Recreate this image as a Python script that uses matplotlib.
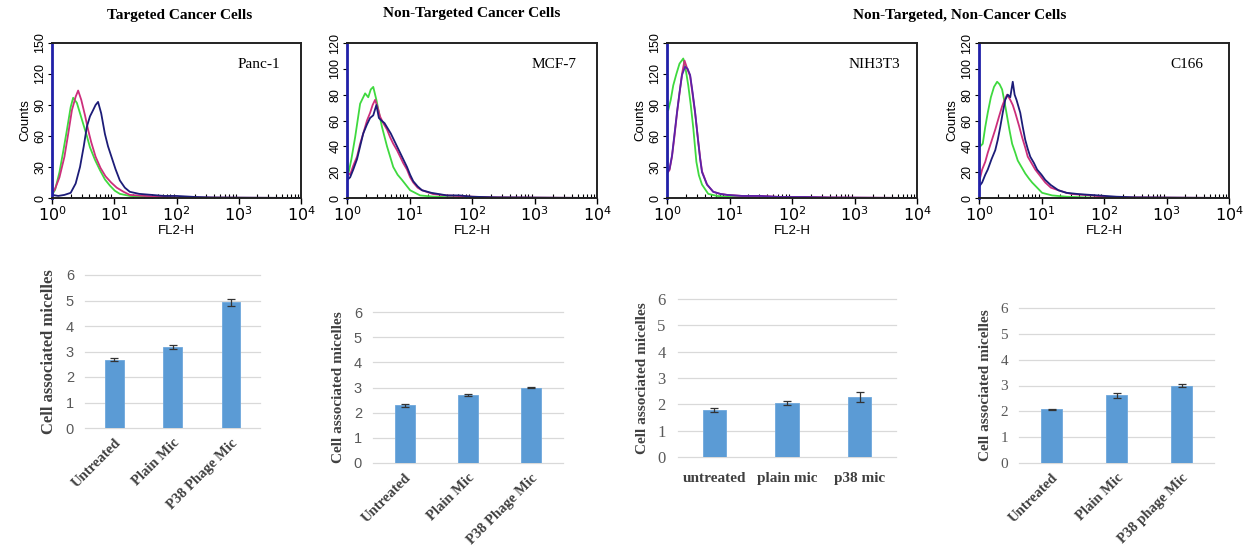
import numpy as np
import matplotlib
matplotlib.use("Agg")
import matplotlib.pyplot as plt
from matplotlib.ticker import LogLocator, NullFormatter, FixedLocator

W, H = 1259, 558

# ---- flow cytometry histograms (x given as log10 FL2-H, y = counts) ----
p1_green_lx = [0.0, 0.05, 0.12, 0.18, 0.24, 0.30, 0.34, 0.40, 0.45, 0.50, 0.56, 0.61, 0.69, 0.77, 0.85, 0.93, 1.01, 1.09, 1.25, 1.5, 2.0, 4.0]
p1_green_y = [3, 8, 25, 45, 66, 88, 97, 92, 82, 72, 60, 49, 37, 27, 18, 12, 7, 4, 2, 1, 0, 0]
p1_pink_lx = [0.0, 0.05, 0.12, 0.2, 0.26, 0.32, 0.38, 0.42, 0.47, 0.53, 0.58, 0.63, 0.70, 0.78, 0.86, 0.95, 1.04, 1.15, 1.25, 1.5, 2.0, 4.0]
p1_pink_y = [4, 9, 20, 40, 62, 85, 98, 104, 95, 80, 66, 54, 40, 29, 21, 15, 10, 6, 3, 2, 0.5, 0]
p1_navy_lx = [0.0, 0.005, 0.1, 0.2, 0.3, 0.38, 0.45, 0.51, 0.56, 0.61, 0.66, 0.70, 0.74, 0.79, 0.85, 0.90, 0.96, 1.02, 1.09, 1.17, 1.25, 1.4, 1.6, 1.8, 2.0, 2.3, 2.6, 4.0]
p1_navy_y = [80, 3, 2, 3, 5, 14, 30, 50, 69, 79, 85, 90, 93, 82, 62, 50, 39, 28, 17, 10, 6, 4, 3, 2, 2, 1, 0.5, 0]

p2_green_lx = [0.0, 0.01, 0.07, 0.13, 0.21, 0.29, 0.34, 0.38, 0.42, 0.47, 0.52, 0.56, 0.64, 0.74, 0.81, 0.88, 1.01, 1.17, 1.4, 2.0, 4.0]
p2_green_y = [60, 16, 30, 47, 73, 81, 78, 84, 86, 76, 64, 55, 40, 24, 18, 14, 6, 2, 1, 0, 0]
p2_pink_lx = [0.0, 0.05, 0.1, 0.16, 0.21, 0.26, 0.32, 0.37, 0.41, 0.45, 0.49, 0.53, 0.58, 0.64, 0.69, 0.74, 0.80, 0.85, 0.90, 0.96, 1.01, 1.06, 1.13, 1.2, 1.38, 1.6, 2.0, 2.3, 4.0]
p2_pink_y = [20, 18, 25, 32, 42, 50, 60, 66, 72, 76, 70, 63, 58, 53, 47, 42, 37, 32, 27, 22, 16, 12, 8, 6, 3, 2, 1, 0.5, 0]
p2_navy_lx = [0.0, 0.005, 0.05, 0.1, 0.16, 0.21, 0.26, 0.32, 0.37, 0.42, 0.47, 0.51, 0.55, 0.60, 0.65, 0.70, 0.75, 0.80, 0.85, 0.90, 0.96, 1.01, 1.06, 1.13, 1.2, 1.35, 1.6, 1.8, 2.0, 2.4, 4.0]
p2_navy_y = [70, 14, 16, 22, 30, 40, 50, 57, 62, 64, 72, 62, 60, 58, 54, 50, 45, 40, 35, 30, 24, 18, 13, 9, 6, 4, 2, 2, 1, 0.5, 0]

p3_green_lx = [0.0, 0.02, 0.06, 0.1, 0.15, 0.2, 0.26, 0.3, 0.34, 0.38, 0.42, 0.47, 0.51, 0.56, 0.66, 0.8, 1.0, 1.5, 4.0]
p3_green_y = [95, 85, 95, 109, 120, 130, 135, 124, 109, 90, 68, 35, 22, 13, 4, 2, 1, 0, 0]
p3_pink_lx = [0.0, 0.005, 0.04, 0.08, 0.12, 0.16, 0.2, 0.24, 0.28, 0.33, 0.37, 0.41, 0.45, 0.5, 0.53, 0.56, 0.64, 0.74, 0.85, 0.96, 1.2, 1.5, 1.8, 2.2, 2.6, 4.0]
p3_pink_y = [100, 24, 27, 40, 60, 82, 101, 120, 133, 124, 118, 100, 82, 55, 39, 26, 13, 6, 4, 3, 2, 2, 1, 1, 0.5, 0]
p3_navy_lx = [0.0, 0.005, 0.04, 0.08, 0.12, 0.16, 0.2, 0.24, 0.29, 0.33, 0.37, 0.41, 0.45, 0.5, 0.53, 0.56, 0.64, 0.74, 0.85, 0.96, 1.2, 1.5, 1.8, 2.2, 2.6, 4.0]
p3_navy_y = [110, 25, 28, 41, 62, 83, 102, 119, 127, 125, 119, 102, 83, 54, 38, 25, 13, 6, 4, 3, 2, 2, 1, 1, 0.5, 0]

p4_green_lx = [0.0, 0.02, 0.06, 0.10, 0.14, 0.19, 0.24, 0.29, 0.33, 0.37, 0.41, 0.45, 0.49, 0.53, 0.58, 0.62, 0.68, 0.74, 0.80, 0.85, 0.93, 1.01, 1.17, 1.4, 2.0, 4.0]
p4_green_y = [75, 40, 42, 55, 66, 78, 86, 90, 88, 84, 74, 63, 52, 42, 35, 29, 24, 19, 15, 12, 8, 4, 2, 1, 0, 0]
p4_pink_lx = [0.0, 0.05, 0.1, 0.14, 0.2, 0.26, 0.32, 0.37, 0.41, 0.45, 0.5, 0.54, 0.58, 0.64, 0.69, 0.74, 0.78, 0.84, 0.9, 0.98, 1.06, 1.15, 1.27, 1.4, 1.5, 1.8, 2.0, 2.3, 4.0]
p4_pink_y = [12, 22, 28, 35, 44, 53, 63, 71, 76, 80, 76, 72, 66, 56, 47, 39, 32, 27, 22, 17, 12, 8, 6, 4, 3, 2, 1, 0.5, 0]
p4_navy_lx = [0.0, 0.005, 0.05, 0.1, 0.14, 0.2, 0.26, 0.3, 0.34, 0.38, 0.42, 0.46, 0.5, 0.54, 0.57, 0.6, 0.66, 0.7, 0.74, 0.78, 0.82, 0.88, 0.93, 1.0, 1.06, 1.15, 1.27, 1.4, 1.6, 1.9, 2.2, 2.5, 4.0]
p4_navy_y = [70, 9, 12, 18, 22, 30, 37, 45, 55, 66, 76, 80, 78, 90, 80, 76, 66, 55, 45, 38, 32, 27, 22, 18, 14, 10, 6, 4, 3, 2, 1, 0.5, 0]

hist_names = ["Panc-1", "MCF-7", "NIH3T3", "C166"]
hist_ymax = [150, 120, 150, 120]
hist_ystep = [30, 20, 30, 20]

# ---- bar charts ----
bar_labels_1 = ["Untreated", "Plain Mic", "P38 Phage Mic"]
bar_vals_1 = [2.68, 3.18, 4.93]
bar_err_1 = [0.05, 0.08, 0.13]
bar_labels_2 = ["Untreated", "Plain Mic", "P38 Phage Mic"]
bar_vals_2 = [2.30, 2.70, 3.00]
bar_err_2 = [0.06, 0.05, 0.03]
bar_labels_3 = ["untreated", "plain mic", "p38 mic"]
bar_vals_3 = [1.78, 2.05, 2.27]
bar_err_3 = [0.07, 0.09, 0.18]
bar_labels_4 = ["Untreated", "Plain Mic", "P38 phage Mic"]
bar_vals_4 = [2.08, 2.62, 3.00]
bar_err_4 = [0.02, 0.10, 0.05]

GREEN = "#3fd93f"
PINK = "#cc2f7c"
NAVY = "#1c1c78"
PURPLE = "#5a22a8"
BAR = "#5b9bd5"
SERIF = ["Liberation Serif", "DejaVu Serif"]
SANS = ["Liberation Sans", "DejaVu Sans"]


def px_axes(fig, l, r, t, b):
    return fig.add_axes([l / W, 1 - b / H, (r - l) / W, (b - t) / H])


fig = plt.figure(figsize=(W / 100, H / 100), dpi=100)
fig.patch.set_facecolor("white")

hist_boxes = [(52, 301), (347, 597), (667, 917), (979, 1229)]
curves = [
    [(p1_green_lx, p1_green_y, GREEN), (p1_pink_lx, p1_pink_y, PINK), (p1_navy_lx, p1_navy_y, NAVY)],
    [(p2_green_lx, p2_green_y, GREEN), (p2_pink_lx, p2_pink_y, PINK), (p2_navy_lx, p2_navy_y, NAVY)],
    [(p3_green_lx, p3_green_y, GREEN), (p3_pink_lx, p3_pink_y, PINK), (p3_navy_lx, p3_navy_y, PURPLE)],
    [(p4_green_lx, p4_green_y, GREEN), (p4_pink_lx, p4_pink_y, PINK), (p4_navy_lx, p4_navy_y, NAVY)],
]

for i, (l, r) in enumerate(hist_boxes):
    ax = px_axes(fig, l, r, 43, 198)
    for lx, y, c in curves[i]:
        ax.plot(10 ** np.array(lx), y, color=c, lw=1.3)
    ax.set_xscale("log")
    ax.set_xlim(1, 1e4)
    ax.set_ylim(0, hist_ymax[i])
    ax.set_yticks(np.arange(0, hist_ymax[i] + 1, hist_ystep[i]))
    ax.xaxis.set_major_locator(FixedLocator([1, 10, 100, 1000, 10000]))
    ax.xaxis.set_minor_locator(LogLocator(base=10, subs=np.arange(2, 10)))
    ax.xaxis.set_minor_formatter(NullFormatter())
    ax.set_xticklabels([r"$10^{%d}$" % k for k in range(5)], fontsize=11.5, family=SANS)
    ax.tick_params(axis="x", which="major", direction="out", length=4, width=1, pad=1)
    ax.tick_params(axis="x", which="minor", direction="in", length=3, width=0.8)
    ax.tick_params(axis="y", direction="out", length=3, labelsize=9, pad=1)
    for lab in ax.get_yticklabels():
        lab.set_rotation(90)
        lab.set_va("center")
        lab.set_family(SANS)
    for s in ax.spines.values():
        s.set_linewidth(1.4)
        s.set_color("#222222")
    ax.spines["left"].set_color("#2020a8")
    ax.spines["left"].set_linewidth(2)
    ax.text(0.83, 0.86, hist_names[i], transform=ax.transAxes, ha="center",
            va="center", fontsize=11, family=SERIF)
    ax.set_xlabel("FL2-H", fontsize=9.5, family=SANS, labelpad=1)
    if i != 1:
        ax.set_ylabel("Counts", fontsize=9.5, family=SANS, labelpad=2)

fig.text(180 / W, 1 - 15 / H, "Targeted Cancer Cells", ha="center", va="center",
         fontsize=11, fontweight="bold", family=SERIF)
fig.text(472 / W, 1 - 13 / H, "Non-Targeted Cancer Cells", ha="center", va="center",
         fontsize=11, fontweight="bold", family=SERIF)
fig.text(960 / W, 1 - 15 / H, "Non-Targeted, Non-Cancer Cells", ha="center", va="center",
         fontsize=11, fontweight="bold", family=SERIF)

bar_boxes = [(85, 260, 275, 428), (373, 563, 312, 463), (678, 896, 299, 457), (1019, 1214, 308, 463)]
bar_sets = [(bar_labels_1, bar_vals_1, bar_err_1), (bar_labels_2, bar_vals_2, bar_err_2),
            (bar_labels_3, bar_vals_3, bar_err_3), (bar_labels_4, bar_vals_4, bar_err_4)]
ylabel_sizes = [12, 11, 11, 11]

for i, (l, r, t, b) in enumerate(bar_boxes):
    labels, vals, errs = bar_sets[i]
    ax = px_axes(fig, l, r, t, b)
    x = np.arange(len(vals))
    ax.bar(x, vals, width=0.32, color=BAR, edgecolor="#6fa8dc", linewidth=0.6, zorder=3)
    ax.errorbar(x, vals, yerr=errs, fmt="none", ecolor="#333333", elinewidth=0.9,
                capsize=3, capthick=0.9, zorder=4)
    ax.set_xlim(-0.5, 2.5)
    ax.set_ylim(0, 6)
    ax.set_yticks(range(0, 7))
    ax.grid(axis="y", color="#d9d9d9", lw=0.9, zorder=0)
    for ln in ax.get_ygridlines():
        ln.set_clip_on(False)
    for s in ax.spines.values():
        s.set_visible(False)
    ax.tick_params(length=0)
    ax.set_xticks(x)
    if i == 2:
        ax.set_xticklabels(labels, fontsize=11, fontweight="bold", family=SERIF,
                           color="#404040")
        ax.tick_params(axis="x", pad=11)
        ax.tick_params(axis="y", labelsize=12, labelcolor="#595959", pad=9)
        for lab in ax.get_yticklabels():
            lab.set_family(SERIF)
    else:
        ax.set_xticklabels(labels, fontsize=10.5, fontweight="bold", family=SERIF,
                           color="#404040", rotation=45, ha="right", rotation_mode="anchor")
        ax.tick_params(axis="x", pad=6)
        ax.tick_params(axis="y", labelsize=11 if i == 3 else 10.5,
                       labelcolor="#595959", pad=8)
        for lab in ax.get_yticklabels():
            lab.set_family(SERIF if i == 3 else SANS)
    ax.set_ylabel("Cell associated micelles", fontsize=ylabel_sizes[i], fontweight="bold",
                  family=SERIF, color="#404040", labelpad=6)

fig.savefig("out.png", dpi=100, facecolor="white")
